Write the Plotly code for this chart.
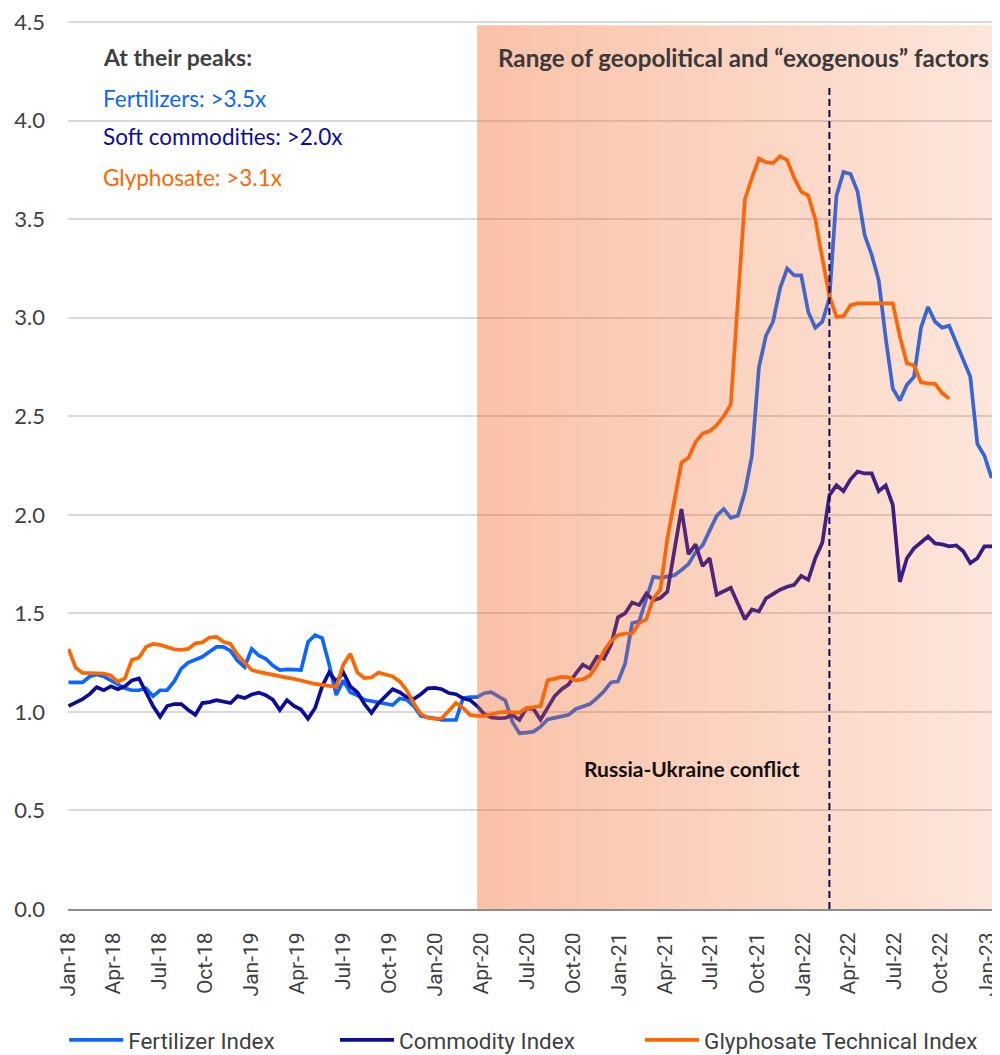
import pandas as pd
import plotly.graph_objects as go

# ---------------- data (bi-weekly observations, index = 1.0 baseline) ----------------
dates = pd.date_range("2018-01-02", periods=133, freq="14D")

fertilizer_index = [
    1.15, 1.15, 1.15, 1.18, 1.19, 1.18, 1.16, 1.14, 1.12, 1.11,
    1.11, 1.12, 1.08, 1.11, 1.11, 1.155, 1.22, 1.25, 1.265, 1.28,
    1.305, 1.33, 1.33, 1.31, 1.26, 1.228, 1.32, 1.287, 1.27, 1.235,
    1.212, 1.216, 1.215, 1.212, 1.355, 1.39, 1.375, 1.24, 1.086, 1.16,
    1.10, 1.085, 1.062, 1.055, 1.045, 1.04, 1.035, 1.068, 1.062, 1.03,
    0.98, 0.972, 0.968, 0.959, 0.96, 0.96, 1.07, 1.075, 1.075, 1.095,
    1.10, 1.08, 1.058, 0.95, 0.892, 0.895, 0.90, 0.925, 0.962, 0.97,
    0.976, 0.985, 1.015, 1.026, 1.04, 1.07, 1.105, 1.15, 1.155, 1.245,
    1.45, 1.46, 1.58, 1.686, 1.68, 1.688, 1.694, 1.72, 1.75, 1.81,
    1.845, 1.92, 1.995, 2.03, 1.985, 1.995, 2.115, 2.30, 2.75, 2.91,
    2.98, 3.15, 3.25, 3.215, 3.215, 3.03, 2.95, 2.98, 3.10, 3.62,
    3.74, 3.73, 3.64, 3.42, 3.32, 3.19, 2.895, 2.64, 2.58, 2.66,
    2.70, 2.95, 3.055, 2.98, 2.95, 2.96, 2.87, 2.78, 2.70, 2.36,
    2.30, 2.19, 2.23,
]

commodity_index = [
    1.03, 1.045, 1.065, 1.09, 1.125, 1.11, 1.13, 1.115, 1.13, 1.16,
    1.17, 1.10, 1.03, 0.975, 1.03, 1.04, 1.04, 1.01, 0.985, 1.045,
    1.05, 1.06, 1.052, 1.045, 1.08, 1.07, 1.088, 1.098, 1.085, 1.062,
    1.01, 1.06, 1.03, 1.012, 0.965, 1.02, 1.13, 1.20, 1.155, 1.20,
    1.13, 1.10, 1.04, 0.995, 1.044, 1.08, 1.115, 1.10, 1.075, 1.066,
    1.09, 1.12, 1.122, 1.115, 1.096, 1.09, 1.069, 1.06, 1.03, 0.99,
    0.972, 0.968, 0.97, 0.985, 0.96, 1.018, 1.015, 0.96, 1.02, 1.08,
    1.115, 1.14, 1.195, 1.24, 1.22, 1.28, 1.27, 1.34, 1.48, 1.50,
    1.555, 1.542, 1.60, 1.567, 1.578, 1.61, 1.82, 2.03, 1.80, 1.85,
    1.74, 1.78, 1.595, 1.61, 1.63, 1.55, 1.47, 1.52, 1.51, 1.576,
    1.60, 1.62, 1.635, 1.645, 1.69, 1.67, 1.78, 1.86, 2.10, 2.15,
    2.12, 2.18, 2.22, 2.21, 2.21, 2.12, 2.15, 2.05, 1.66, 1.78,
    1.83, 1.86, 1.89, 1.855, 1.85, 1.84, 1.845, 1.815, 1.755, 1.78,
    1.84, 1.84, 1.855,
]

glyphosate_index = [
    1.32, 1.225, 1.198, 1.197, 1.20, 1.195, 1.185, 1.153, 1.17, 1.265,
    1.275, 1.33, 1.345, 1.34, 1.33, 1.318, 1.315, 1.32, 1.348, 1.353,
    1.378, 1.381, 1.356, 1.345, 1.29, 1.25, 1.213, 1.203, 1.195, 1.186,
    1.18, 1.174, 1.168, 1.158, 1.15, 1.142, 1.137, 1.13, 1.127, 1.24,
    1.295, 1.20, 1.172, 1.175, 1.20, 1.19, 1.18, 1.155, 1.11, 1.045,
    0.99, 0.97, 0.965, 0.968, 1.005, 1.045, 1.02, 0.985, 0.98, 0.98,
    0.988, 0.997, 1.0, 1.0, 0.997, 1.018, 1.026, 1.03, 1.16, 1.17,
    1.178, 1.175, 1.16, 1.165, 1.185, 1.235, 1.31, 1.36, 1.39, 1.398,
    1.398, 1.45, 1.47, 1.575, 1.62, 1.88, 2.085, 2.265, 2.29, 2.37,
    2.413, 2.425, 2.455, 2.50, 2.56, 3.10, 3.60, 3.71, 3.808, 3.79,
    3.785, 3.82, 3.80, 3.71, 3.64, 3.62, 3.50, 3.30, 3.11, 3.005,
    3.008, 3.064, 3.073, 3.073, 3.073, 3.073, 3.073, 3.073, 2.905, 2.768,
    2.76, 2.672, 2.667, 2.665, 2.618, 2.59, None, None, None, None,
    None, None, None,
]

series_names = ["Fertilizer Index", "Commodity Index", "Glyphosate Technical Index"]

x_range = ["2018-01-01", "2023-01-27"]
y_range = [0, 4.506]
shade_start, shade_end = "2020-03-24", "2023-01-27"
shade_top = 4.485
conflict_date = "2022-02-22"
conflict_line_top = 4.18

peak_notes = ["Fertilizers: >3.5x", "Soft commodities: >2.0x", "Glyphosate: >3.1x"]

# ---------------- styles ----------------
BLUE = "#0A66FF"
NAVY = "#0C0C9C"
ORANGE = "#FF6600"
TEXT = "#404040"
FONT = "Lato, 'Open Sans', sans-serif"
NARROW = "'Liberation Sans Narrow', 'Arial Narrow', Roboto, sans-serif"

legend_ids = ["legend", "legend2", "legend3"]
legend_x = [-0.0041, 0.2865, 0.6138]

fig = go.Figure()
for name, vals, col, lg in zip(series_names,
                               [fertilizer_index, commodity_index, glyphosate_index],
                               [BLUE, NAVY, ORANGE], legend_ids):
    fig.add_trace(go.Scatter(x=dates, y=vals, name=name, mode="lines",
                             line=dict(color=col, width=3.7),
                             connectgaps=False, legend=lg))

# translucent gradient band laid over the lines
fig.add_trace(go.Scatter(
    x=[shade_start, shade_end, shade_end, shade_start, shade_start],
    y=[0, 0, shade_top, shade_top, 0],
    mode="none", fill="toself", showlegend=False, hoverinfo="skip",
    fillgradient=dict(type="horizontal",
                      colorscale=[[0, "rgba(242,101,34,0.40)"],
                                  [1, "rgba(242,101,34,0.16)"]]),
))

fig.add_shape(type="line", xref="x", yref="y",
              x0=conflict_date, x1=conflict_date, y0=0, y1=conflict_line_top,
              line=dict(color="#0B0B5C", width=2, dash="7px,4px"), layer="above")

# annotations
fig.add_annotation(xref="paper", yref="y", x=0.0354, y=4.323, xanchor="left", yanchor="middle",
                   text="<b>At their peaks:</b>", showarrow=False,
                   font=dict(family=FONT, size=23, color=TEXT))
for note, col, yv in zip(peak_notes, [BLUE, NAVY, ORANGE], [4.115, 3.922, 3.714]):
    fig.add_annotation(xref="paper", yref="y", x=0.0354, y=yv, xanchor="left", yanchor="middle",
                       text=note, showarrow=False,
                       font=dict(family=FONT, size=22.5, color=col))
fig.add_annotation(xref="paper", yref="y", x=0.459, y=4.323, xanchor="left", yanchor="middle",
                   text="<b>Range of geopolitical and “exogenous” factors</b>", showarrow=False,
                   font=dict(family=FONT, size=24.2, color="#3A3A3A"))
fig.add_annotation(xref="paper", yref="y", x=0.5515, y=0.715, xanchor="left", yanchor="middle",
                   text="<b>Russia-Ukraine conflict</b>", showarrow=False,
                   font=dict(family=FONT, size=21, color="#111111"))

fig.update_xaxes(type="date", range=x_range, tick0="2018-01-01", dtick="M3",
                 tickformat="%b-%y", tickangle=-90, showgrid=False,
                 showline=True, linecolor="#8C8C8C", linewidth=2, ticks="",
                 ticklabelstandoff=13, automargin=False, ticklabeloverflow="allow",
                 tickfont=dict(family=NARROW, size=21, color=TEXT))
fig.update_yaxes(range=y_range, tick0=0, dtick=0.5, tickformat=".1f", showgrid=True,
                 gridcolor="#D9D9D9", gridwidth=1.5, zeroline=False, ticks="",
                 ticklabelstandoff=22, automargin=False, ticklabeloverflow="allow",
                 tickfont=dict(family=FONT, size=22, color=TEXT))

legend_common = dict(orientation="h", xanchor="left", y=-0.1477, yanchor="middle",
                     font=dict(family=NARROW, size=22.5, color=TEXT), itemwidth=54,
                     bgcolor="rgba(0,0,0,0)")

# page body adds an 8px offset, so the figure is sized 992x1047 to fill 1000x1055
fig.update_layout(
    width=992, height=1047,
    margin=dict(l=60, r=0, t=13, b=146, autoexpand=False),
    plot_bgcolor="white", paper_bgcolor="white",
    font=dict(family=FONT, color=TEXT),
    legend=dict(x=legend_x[0], **legend_common),
    legend2=dict(x=legend_x[1], **legend_common),
    legend3=dict(x=legend_x[2], **legend_common),
    hovermode=False,
)

fig.write_html("out.html")
